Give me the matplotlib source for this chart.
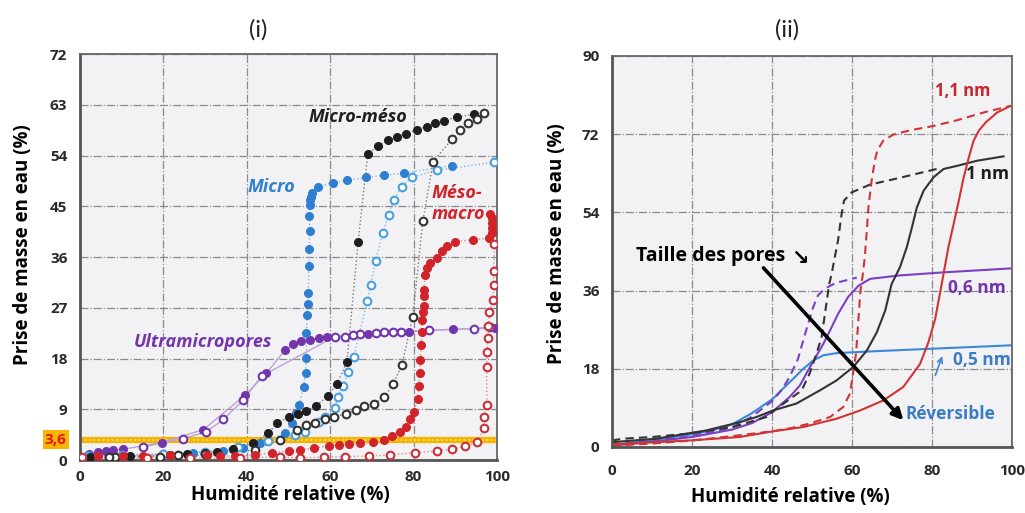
import numpy as np
import matplotlib.pyplot as plt
from matplotlib.transforms import blended_transform_factory

plt.rcParams['font.family'] = ['Open Sans', 'DejaVu Sans']

# ---------------- (i) donnees (points mesures) ----------------
micro_ads_x = [2, 10, 20, 27.2, 34.4, 39.2, 43.2, 49.2, 50.8, 51.8, 52.6, 53.6, 54.1, 54.3, 54.3,
               54.5, 54.6, 54.7, 54.9, 55.0, 55.1, 55.0, 55.1, 55.2, 55.4, 55.6, 57.1, 60.6, 64.0,
               68.7, 73.0, 77.8, 89.2]
micro_ads_y = [0.8, 0.9, 1.0, 1.3, 1.6, 2.1, 3.0, 4.7, 6.5, 8.3, 9.8, 13.0, 15.5, 18.1, 22.6,
               25.7, 27.7, 29.7, 34.4, 37.5, 40.6, 43.3, 45.3, 46.1, 46.7, 47.4, 48.4, 49.2, 49.6,
               50.1, 50.5, 50.9, 52.2]
micro_des_x = [99.4, 85.6, 79.5, 77.1, 75.2, 74.0, 72.6, 70.9, 69.7, 68.9, 65.6, 64.3, 63.0, 61.9,
               61.1, 58.8, 57.2, 54.0, 51.6, 45, 38, 30, 20, 10, 2]
micro_des_y = [52.8, 51.4, 50.1, 48.5, 46.1, 43.5, 40.3, 35.3, 31.0, 28.2, 18.2, 15.6, 13.1, 11.2,
               9.3, 7.6, 6.8, 5.0, 4.4, 3.3, 2.3, 1.5, 1.1, 0.9, 0.7]

mm_ads_x = [2.4, 12.0, 21.6, 25.6, 30.0, 32.8, 36.8, 41.6, 45.2, 47.2, 50.0, 52.2, 54.1, 56.6, 59.4,
            61.6, 64.0, 66.7, 69.0, 71.4, 73.9, 76.0, 78.2, 80.8, 83.1, 85.2, 87.4, 90.4, 94.4]
mm_ads_y = [0.5, 0.7, 0.9, 1.1, 1.3, 1.5, 1.9, 3.0, 4.8, 6.5, 7.6, 8.2, 8.7, 9.6, 11.3,
            13.5, 17.4, 38.7, 54.2, 55.7, 56.7, 57.3, 57.9, 58.6, 59.1, 59.7, 60.2, 60.8, 61.3]
mm_des_x = [96.8, 95.1, 93.0, 91.2, 89.3, 84.7, 82.2, 79.8, 77.2, 75.1, 72.9, 70.4, 68.2, 66.1,
            63.7, 60.9, 58.8, 56.4, 54.3, 52.1, 48, 42.0, 30, 23.5, 19.2, 8.4, 7.0]
mm_des_y = [61.6, 60.4, 59.7, 58.5, 57.0, 52.9, 42.3, 25.4, 16.9, 13.4, 11.2, 9.9, 9.5, 8.8,
            8.2, 7.6, 7.3, 6.6, 6.2, 5.3, 3.6, 1.8, 1.0, 0.8, 0.6, 0.5, 0.5]

mesomacro_ads_x = [4.4, 10.4, 15.2, 21.6, 30.4, 33.6, 37.2, 42.0, 46.0, 50.0, 52.8, 56.0, 59.6, 62.0,
                   64.4, 67.2, 70.2, 72.8, 74.8, 76.8, 78.2, 79.2, 80.0, 81.0, 81.2, 81.6, 81.6, 81.8,
                   82.0, 82.0, 82.3, 82.4, 82.6, 82.4, 82.8, 83.2, 84.0, 85.5, 86.8, 88.0, 90.0, 94.3,
                   98.2, 98.7, 98.7, 98.7, 98.7, 98.4]
mesomacro_ads_y = [0.7, 0.7, 0.7, 0.8, 0.8, 0.7, 0.7, 0.9, 1.3, 1.6, 1.8, 2.1, 2.5, 2.7,
                   2.8, 3.0, 3.2, 3.5, 4.3, 5.0, 5.9, 7.2, 8.6, 10.8, 13.1, 15.5, 17.7, 20.4,
                   22.7, 24.8, 26.3, 27.3, 29.0, 30.1, 32.8, 34.0, 35.0, 35.9, 37.1, 37.9, 38.7, 39.1,
                   39.3, 40.2, 41.1, 42.0, 42.9, 43.7]
mesomacro_des_x = [99.4, 99.2, 99.2, 99.0, 98.2, 97.9, 97.8, 97.6, 97.5, 97.6, 96.8, 96.9, 95.2,
                   92.4, 89.2, 85.6, 80.4, 74.4, 69.2, 63.6, 58.4, 52.8, 48.0, 38.4, 26.4, 16.0, 0.4]
mesomacro_des_y = [38.3, 33.5, 31.0, 28.4, 26.3, 23.7, 21.6, 19.2, 16.5, 9.8, 7.6, 5.6, 3.2,
                   2.4, 1.9, 1.6, 1.3, 0.9, 0.7, 0.6, 0.5, 0.4, 0.5, 0.4, 0.3, 0.3, 0.5]

ultra_ads_x = [2.2, 4.4, 6.2, 8.0, 10.3, 19.6, 29.6, 39.6, 44.7, 49.2, 51.1, 53.0, 55.2, 57.2,
               59.2, 69.0, 78.8, 89.5, 99.6]
ultra_ads_y = [1.0, 1.5, 1.6, 1.8, 1.9, 3.1, 5.4, 11.5, 15.4, 19.5, 20.6, 21.1, 21.3, 21.6,
               21.8, 22.3, 22.7, 23.2, 23.4]
ultra_des_x = [98.3, 94.4, 83.6, 77.0, 75.1, 73.0, 70.9, 67.2, 65.5, 63.6, 61.2, 43.6, 39.1,
               34.4, 30.3, 24.7, 15.1]
ultra_des_y = [23.6, 23.3, 23.0, 22.7, 22.7, 22.7, 22.6, 22.3, 22.2, 21.9, 21.9, 14.9, 10.6,
               7.2, 5.0, 3.8, 2.3]

seuil = 3.6

# ---------------- (ii) donnees (courbes) ----------------
r11_ads_x = [0, 6.8, 19.3, 31.9, 40.2, 47.8, 56.1, 62.0, 67.8, 72.8, 77.0, 79.1, 80.8, 82.5,
             84.1, 85.4, 86.7, 87.9, 89.2, 90.4, 91.7, 93.4, 96.3, 99.6]
r11_ads_y = [0.6, 0.9, 1.5, 2.3, 3.6, 4.6, 6.5, 8.4, 10.7, 13.8, 19.1, 24.1, 29.5, 37.9,
             46.0, 51.3, 56.7, 62.0, 66.6, 70.5, 72.8, 74.7, 77.0, 78.5]
r11_des_x = [0, 10, 20, 30, 40, 45, 49.4, 54.5, 57.8, 59.5, 60.3, 61.0, 61.3, 62.1, 62.6, 63.2,
             63.7, 64.1, 64.9, 65.7, 66.3, 67.8, 70.3, 74.5, 80.4, 86.2, 92.9, 99.6]
r11_des_y = [0.3, 0.8, 1.5, 2.5, 3.6, 4.4, 5.4, 6.9, 9.2, 12.3, 17.2, 21.4, 25.3, 36.0, 39.0, 43.7,
             49.8, 55.1, 61.3, 65.9, 68.2, 70.5, 71.9, 72.9, 73.9, 75.2, 77.0, 78.5]

r1_ads_x = [0, 11.0, 23.5, 31.9, 36.1, 40.2, 46.1, 51.9, 56.1, 60.3, 63.7, 66.2, 68.3, 69.9,
            72.0, 73.7, 75.0, 76.2, 77.9, 80.4, 82.9, 86.2, 91.3, 97.9]
r1_ads_y = [1.1, 1.9, 3.8, 5.7, 6.9, 8.4, 10.0, 13.0, 15.3, 18.4, 22.2, 26.4, 31.4, 37.5,
            41.4, 46.0, 50.6, 55.1, 59.0, 62.1, 64.0, 64.7, 65.9, 66.9]
r1_des_x = [0, 2.6, 10, 19.3, 30.2, 38.6, 41.1, 47.4, 49.4, 51.1, 52.4, 54.3, 54.9, 55.7, 56.5,
            57.4, 58.0, 59.9, 64.5, 71.2, 81.2]
r1_des_y = [1.5, 1.9, 2.3, 3.1, 4.6, 6.9, 8.8, 13.0, 16.9, 21.4, 25.3, 37.5, 39.8, 43.7, 47.5,
            53.6, 56.7, 58.6, 60.4, 61.8, 64.0]

r06_ads_x = [0, 10, 20, 30, 35, 40, 41.5, 44.4, 47.0, 49.0, 52.8, 54.5, 56.5, 59.0, 61.6, 64.5,
             72, 82.9, 99.6]
r06_ads_y = [0.3, 1.2, 2.3, 4.0, 5.5, 8.0, 9.2, 11.5, 14.2, 17.6, 23.7, 26.8, 30.6, 34.5, 37.1,
             38.7, 39.5, 40.2, 41.1]
r06_des_x = [0, 10, 20, 30, 35, 40.2, 42.3, 44.4, 46.5, 47.8, 49.0, 50.3, 51.5, 53, 54.5, 56.1, 61.2]
r06_des_y = [0.5, 1.3, 2.5, 4.5, 7.0, 10.7, 13.0, 16.1, 20.3, 24.5, 28.3, 32.2, 34.9, 36.3, 37.1,
             37.8, 39.0]

r05_x = [0, 10, 20, 25, 30, 35, 40.2, 42.7, 45.3, 47.8, 50.3, 52.8, 56.1, 64.5, 79.5, 99.6]
r05_y = [0.4, 1.6, 2.9, 3.8, 5.2, 7.8, 11.1, 13.4, 15.7, 18.0, 19.9, 21.1, 21.6, 22.0, 22.6, 23.4]

BLEU = '#2f7fd1'
BLEU_C = '#4aa0e0'
NOIR = '#1e1e1e'
ROUGE = '#d0232a'
VIOLET = '#7335ad'
FOND = '#f2f2f4'

fig = plt.figure(figsize=(10.25, 5.13), dpi=100)

def habiller(ax, yticks, ymax, xpad, ypad):
    ax.set_facecolor(FOND)
    ax.set_xlim(0, 100)
    ax.set_ylim(0, ymax)
    ax.set_xticks([0, 20, 40, 60, 80, 100])
    ax.set_yticks(yticks)
    ax.grid(True, color='#8a8a8a', linestyle='-.', linewidth=0.9)
    ax.set_axisbelow(True)
    ax.tick_params(length=0, labelsize=11, labelcolor='#2a2a2a')
    ax.tick_params(axis='x', pad=xpad)
    ax.tick_params(axis='y', pad=ypad)
    for lab in ax.get_xticklabels() + ax.get_yticklabels():
        lab.set_fontweight('bold')
    for s in ['left', 'bottom']:
        ax.spines[s].set_color('#555555')
        ax.spines[s].set_linewidth(2)
    for s in ['top', 'right']:
        ax.spines[s].set_color('#666666')
        ax.spines[s].set_linewidth(1.3)

# ---------------- (i) ----------------
ax1 = fig.add_axes([80 / 1025, 53 / 513, 417 / 1025, 406 / 513])
habiller(ax1, np.arange(0, 73, 9), 72, 7, 9)

ax1.axhline(seuil, color='#f5b400', linewidth=4.5, zorder=2)
ax1.axhline(seuil, color='#ffe27a', linewidth=1.3, linestyle=(0, (1, 1.5)), zorder=2)

def serie(x, y, couleur, ligne, plein, ls=':'):
    ax1.plot(x, y, color=ligne, linewidth=1.0, linestyle=ls, zorder=3)
    if plein:
        ax1.plot(x, y, 'o', color=couleur, markersize=5.5, zorder=4, linestyle='none')
    else:
        ax1.plot(x, y, 'o', markerfacecolor='white', markeredgecolor=couleur, markeredgewidth=1.5,
                 markersize=5.5, zorder=4, linestyle='none')

serie(ultra_ads_x, ultra_ads_y, VIOLET, '#b9a3d6', True, '-')
serie(ultra_des_x, ultra_des_y, VIOLET, '#b9a3d6', False, '-')
serie(micro_ads_x, micro_ads_y, BLEU, '#7fb6e6', True)
serie(micro_des_x, micro_des_y, BLEU_C, '#7fb6e6', False)
serie(mm_ads_x, mm_ads_y, NOIR, '#777777', True)
serie(mm_des_x, mm_des_y, '#333333', '#777777', False)
serie(mesomacro_ads_x, mesomacro_ads_y, ROUGE, '#e58a8a', True)
serie(mesomacro_des_x, mesomacro_des_y, '#c9303a', '#e58a8a', False)

tr = blended_transform_factory(ax1.transAxes, ax1.transData)
ax1.text(-0.058, seuil, '3,6', transform=tr, ha='center', va='center', color='#e8141c',
         fontsize=11, fontweight='bold',
         bbox=dict(boxstyle='square,pad=0.15', facecolor='#f7b500', edgecolor='none'))

style = dict(fontsize=13, fontweight='bold', fontstyle='italic', ha='center', va='center')
ax1.text(66.7, 60.8, 'Micro-méso', color=NOIR, **style)
ax1.text(46.0, 48.5, 'Micro', color=BLEU, **style)
ax1.text(90.4, 47.3, 'Méso-', color=ROUGE, **style)
ax1.text(90.8, 43.7, 'macro', color=ROUGE, **style)
ax1.text(29.4, 21.0, 'Ultramicropores', color=VIOLET, **style)

# ---------------- (ii) ----------------
ax2 = fig.add_axes([612 / 1025, 66 / 513, 400 / 1025, 391 / 513])
habiller(ax2, np.arange(0, 91, 18), 90, 12, 9)

ax2.plot(r05_x, r05_y, color='#3a88d6', linewidth=1.5)
ax2.plot(r06_ads_x, r06_ads_y, color='#7b3fc4', linewidth=1.5)
ax2.plot(r06_des_x, r06_des_y, color='#7b3fc4', linewidth=1.5, linestyle=(0, (4, 2.5)))
ax2.plot(r1_ads_x, r1_ads_y, color='#333333', linewidth=1.5)
ax2.plot(r1_des_x, r1_des_y, color='#333333', linewidth=1.5, linestyle=(0, (4, 2.5)))
ax2.plot(r11_ads_x, r11_ads_y, color='#d03434', linewidth=1.5)
ax2.plot(r11_des_x, r11_des_y, color='#d03434', linewidth=1.5, linestyle=(0, (4, 2.5)))

ax2.annotate('', xy=(73.3, 5.7), xytext=(37.4, 41.7),
             arrowprops=dict(arrowstyle='-|>', color='black', lw=2.6, mutation_scale=16))
ax2.annotate('', xy=(82.8, 21.5), xytext=(80.6, 15.9),
             arrowprops=dict(arrowstyle='->', color='#3a88d6', lw=1.2, mutation_scale=9))

ax2.text(5.9, 44.0, 'Taille des pores', fontsize=14, fontweight='bold', color='black',
         ha='left', va='center')
ax2.text(47.0, 43.4, '↘', fontsize=15, fontweight='bold', color='black',
         ha='center', va='center', family=['DejaVu Sans'])
ax2.text(87.6, 82.0, '1,1 nm', fontsize=12, fontweight='bold', color='#c8262c', ha='center', va='center')
ax2.text(94.0, 62.9, '1 nm', fontsize=12.5, fontweight='bold', color='#1e1e1e', ha='center', va='center')
ax2.text(91.2, 36.7, '0,6 nm', fontsize=12.5, fontweight='bold', color='#7335ad', ha='center', va='center')
ax2.text(92.5, 20.1, '0,5 nm', fontsize=12.5, fontweight='bold', color='#3a7cc4', ha='center', va='center')
ax2.text(84.6, 7.5, 'Réversible', fontsize=12.5, fontweight='bold', color='#3a7cc4', ha='center', va='center')

# ---------------- titres et axes ----------------
fig.text(258 / 1025, 1 - 30 / 513, '(i)', fontsize=17, color='#222222',
         ha='center', va='center', family=['Lato', 'DejaVu Sans'])
fig.text(787 / 1025, 1 - 30 / 513, '(ii)', fontsize=17, color='#222222',
         ha='center', va='center', family=['Lato', 'DejaVu Sans'])

fig.text(290 / 1025, 1 - 495 / 513, 'Humidité relative (%)', fontsize=13.5, fontweight='bold',
         ha='center', va='center')
fig.text(790 / 1025, 1 - 497 / 513, 'Humidité relative (%)', fontsize=13.5, fontweight='bold',
         ha='center', va='center')
fig.text(23 / 1025, 1 - 245 / 513, 'Prise de masse en eau (%)', fontsize=13.5, fontweight='bold',
         rotation=90, ha='center', va='center')
fig.text(557 / 1025, 1 - 244 / 513, 'Prise de masse en eau (%)', fontsize=13.5, fontweight='bold',
         rotation=90, ha='center', va='center')

plt.savefig('out.png', dpi=100)
